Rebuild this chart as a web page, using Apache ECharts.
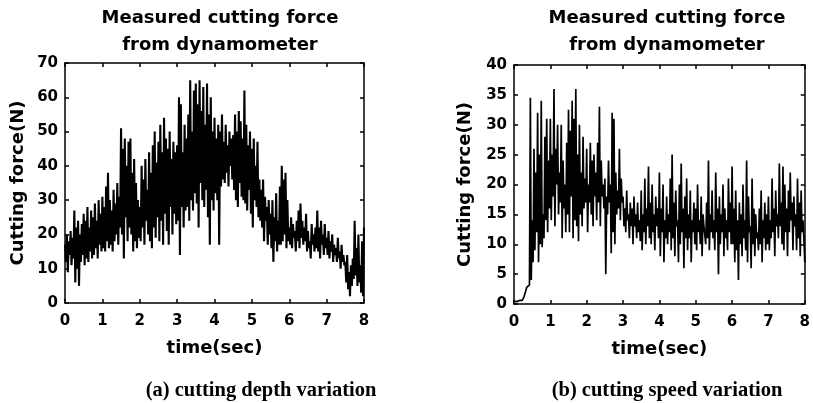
<!DOCTYPE html>
<html>
<head>
<meta charset="utf-8">
<script src="https://cdn.jsdelivr.net/npm/echarts@6/dist/echarts.min.js"></script>
<style>
html,body{margin:0;padding:0;background:#fff;}
#chart{width:813px;height:403px;}
</style>
</head>
<body>
<div id="chart"></div>
<script>
// ---- data ----
const titleText = 'Measured cutting force\nfrom dynamometer';
const captionA = '(a) cutting depth variation';
const captionB = '(b) cutting speed variation';
const xName = 'time(sec)';
const yName = 'Cutting force(N)';
const xTicks = [0, 1, 2, 3, 4, 5, 6, 7, 8];
const yTicksA = [0, 10, 20, 30, 40, 50, 60, 70];
const yTicksB = [0, 5, 10, 15, 20, 25, 30, 35, 40];
const sampleStep = 0.025; // seconds between readings

// (a) cutting depth variation – force readings (N), every 0.025 s
const forceA = [
  17,12,20,9,18,14,21,11,19,13,
  27,6,22,10,24,5,20,12,23,14,
  26,11,24,13,28,12,22,15,27,13,
  25,14,29,16,24,13,30,17,26,15,
  31,16,28,15,34,18,38,16,30,17,
  27,15,33,18,29,20,35,17,31,22,
  51,20,45,13,48,25,40,18,47,22,
  48,20,38,15,42,18,35,16,30,19,
  28,18,40,22,36,17,42,24,33,20,
  44,18,38,16,46,22,50,19,41,25,
  47,18,52,24,44,17,54,26,48,21,
  45,17,50,28,42,20,47,26,44,23,
  46,24,60,14,58,28,44,22,52,27,
  48,28,55,24,65,30,50,27,62,32,
  64,29,58,22,65,35,56,30,63,28,
  52,33,64,25,55,17,60,30,50,27,
  54,32,48,30,52,17,50,34,55,36,
  47,35,52,38,46,34,50,40,48,36,
  49,33,55,30,50,28,56,35,53,31,
  48,30,62,29,52,27,46,33,50,26,
  45,22,48,30,40,28,47,25,36,24,
  33,22,36,18,31,24,28,17,30,20,
  26,16,30,12,25,18,32,15,24,17,
  34,17,40,18,36,20,38,16,30,18,
  22,17,25,16,23,19,21,15,24,18,
  27,16,29,19,24,17,22,18,26,15,
  21,16,18,13,23,17,20,15,22,16,
  27,15,22,13,24,17,20,14,23,16,
  19,14,21,13,18,15,20,12,17,14,
  16,12,19,13,15,10,17,12,14,11,
  12,6,14,4,9,2,11,5,13,7,
  24,8,16,5,20,6,11,3,18,2,22
];

// (b) cutting speed variation – force readings (N), every 0.025 s
const forceB = [
  0.5,0.3,0.6,0.4,0.5,0.3,0.6,0.5,0.4,0.6,
  0.8,1.2,1.5,2.2,2.8,2.5,3.0,3.2,34.5,4.0,
  14,7,26,9,22,12,32,7,25,10,
  34,9.5,15,11,28,14,31,12,24,16,
  31,14,25,18,36,13,26,20,30,15,
  22,17,30,11,24,16,20,12,27,15,
  32.5,12,29,18,34,11,31,14,36,13,
  25,10.5,30,15,22,13,28,16,21,17,
  26,12,20,17,27,15,24,13,25,18,
  22,14,27,17,33,13,24,18,20,16,
  21,5,18,15,24,17,20,8.5,32,12,
  31,10,22,15,19,16,26,14,21,17,
  18,13,16,12,19,14,15,11,17,13,
  16,10,18,13,15,11,17,12,14,10.5,
  19,9,15,12,21,10,16,13,23,11,
  17,10,20,12,15,9,18,13,16,11,
  22,8,16,12,20,7,14,11,18,10,
  15,12,21,9,25,11,17,8,19,13,
  14,7,20,10,23.5,12,16,6,18,11,
  21,9,15,11,19,7,14,12,17,10,
  16,9,20,12,14,10,18,8,15,13,
  13,10,17,11,24,9,15,12,19,11,
  14,9,22,12,16,5,18,10,15,12,
  20,8,16,11,14,9,21,12,17,10,
  23,10,16,7,19,9,14,4,17,10,
  15,8,20,11,14,9,24,7,18,12,
  13,6,21,10,16,8,15,11,12,9,
  16,10,19,7,14,11,17,9,15,10,
  18,9,14,11,21,12,16,8,19,13,
  15,11,23.5,13,17,10,23,9,20,12,
  16,8,19,12,22,14,17,9,18,13,
  15,9,21,11,17,8,19,12,14,11,7
];

// ---- chart ----
const pairs = arr => arr.map((v, i) => [+(i * sampleStep).toFixed(4), v]);
const sans = 'DejaVu Sans';
const black = '#000';

function xAx(gi, pos, labels) {
  return {
    type: 'value', gridIndex: gi, position: pos,
    min: xTicks[0], max: xTicks[xTicks.length - 1], interval: 1,
    name: labels ? xName : '', nameLocation: 'middle', nameGap: 36,
    nameTextStyle: { fontFamily: sans, fontWeight: 'bold', fontSize: 18, color: black },
    axisLine: { show: true, onZero: false, lineStyle: { color: black, width: 1.5 } },
    axisTick: { show: true, inside: true, length: 4, lineStyle: { color: black, width: 1.5 } },
    axisLabel: { show: labels, margin: 11, fontFamily: sans, fontWeight: 'bold', fontSize: 15, color: black },
    splitLine: { show: false }
  };
}
function yAx(gi, pos, ticks, labels, gap) {
  return {
    type: 'value', gridIndex: gi, position: pos,
    min: ticks[0], max: ticks[ticks.length - 1], interval: ticks[1] - ticks[0],
    name: labels ? yName : '', nameLocation: 'middle', nameGap: gap,
    nameTextStyle: { fontFamily: sans, fontWeight: 'bold', fontSize: 18, color: black },
    axisLine: { show: true, onZero: false, lineStyle: { color: black, width: 1.5 } },
    axisTick: { show: true, inside: true, length: 4, lineStyle: { color: black, width: 1.5 } },
    axisLabel: { show: labels, margin: 7, fontFamily: sans, fontWeight: 'bold', fontSize: 15, color: black },
    splitLine: { show: false }
  };
}

const chart = echarts.init(document.getElementById('chart'), null, { renderer: 'canvas' });
chart.setOption({
  animation: false,
  backgroundColor: '#fff',
  title: [
    { text: titleText, left: 215, top: 0, textAlign: 'center',
      textStyle: { fontFamily: sans, fontWeight: 'bold', fontSize: 18, lineHeight: 27, color: black } },
    { text: titleText, left: 662, top: 0, textAlign: 'center',
      textStyle: { fontFamily: sans, fontWeight: 'bold', fontSize: 18, lineHeight: 27, color: black } },
    { text: captionA, left: 256, top: 375, textAlign: 'center',
      textStyle: { fontFamily: 'Liberation Serif', fontWeight: 'bold', fontSize: 20.5, color: black } },
    { text: captionB, left: 662, top: 375, textAlign: 'center',
      textStyle: { fontFamily: 'Liberation Serif', fontWeight: 'bold', fontSize: 20.5, color: black } }
  ],
  grid: [
    { left: 65, top: 63, width: 299, height: 240 },
    { left: 514, top: 65, width: 296, height: 239 }
  ],
  xAxis: [xAx(0, 'bottom', true), xAx(0, 'top', false), xAx(1, 'bottom', true), xAx(1, 'top', false)],
  yAxis: [yAx(0, 'left', yTicksA, true, 38), yAx(0, 'right', yTicksA, false, 0),
          yAx(1, 'left', yTicksB, true, 40), yAx(1, 'right', yTicksB, false, 0)],
  series: [
    { type: 'line', xAxisIndex: 0, yAxisIndex: 0, data: pairs(forceA), showSymbol: false,
      lineStyle: { color: black, width: 2.1 }, silent: true },
    { type: 'line', xAxisIndex: 2, yAxisIndex: 2, data: pairs(forceB), showSymbol: false,
      lineStyle: { color: black, width: 1.7 }, silent: true }
  ]
});
</script>
</body>
</html>
